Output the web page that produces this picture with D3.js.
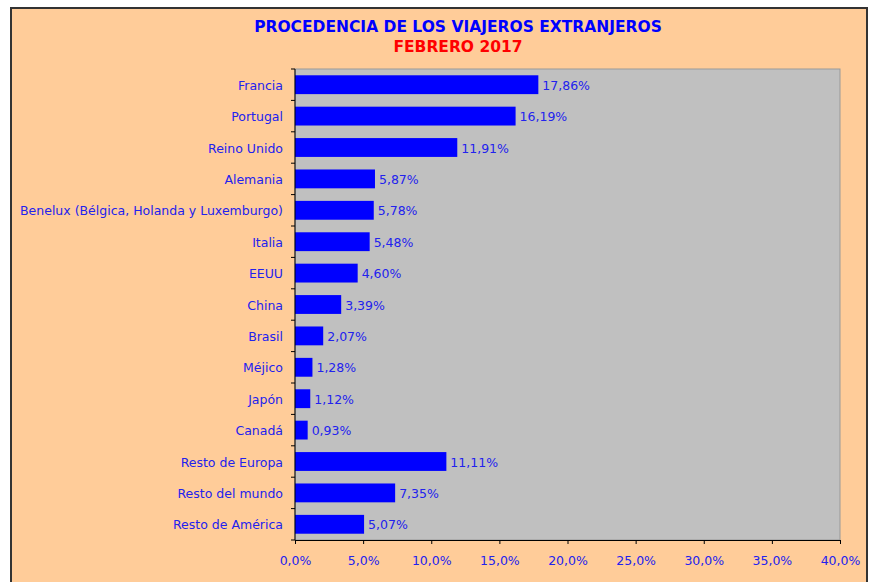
<!DOCTYPE html>
<html>
<head>
<meta charset="utf-8">
<script src="https://cdn.jsdelivr.net/npm/d3@7"></script>
<style>
  body { margin: 0; background: #fff; }
  text { font-family: "DejaVu Sans", Verdana, sans-serif; }
</style>
</head>
<body>
<script>
// data
const countries = [
  "Francia", "Portugal", "Reino Unido", "Alemania",
  "Benelux (Bélgica, Holanda y Luxemburgo)", "Italia", "EEUU", "China",
  "Brasil", "Méjico", "Japón", "Canadá",
  "Resto de Europa", "Resto del mundo", "Resto de América",
]
const shares = [17.86, 16.19, 11.91, 5.87, 5.78, 5.48, 4.60, 3.39, 2.07, 1.28, 1.12, 0.93, 11.11, 7.35, 5.07]
const xTicks = [0, 5, 10, 15, 20, 25, 30, 35, 40]
const titleLines = ["PROCEDENCIA DE LOS VIAJEROS EXTRANJEROS", "FEBRERO 2017"]

const dataset = countries.map((c, i) => ({country: c, value: shares[i]}))
const fmt = v => d3.format(".2f")(v).replace(".", ",") + "%"
const fmtTick = v => d3.format(".1f")(v).replace(".", ",") + "%"

const dimensions = {
  width: 869,
  height: 582,
  margin: {top: 69, right: 29, bottom: 42, left: 295},
}
dimensions.boundedWidth = dimensions.width - dimensions.margin.left - dimensions.margin.right
dimensions.boundedHeight = dimensions.height - dimensions.margin.top - dimensions.margin.bottom

const wrapper = d3.select("body")
  .append("svg")
    .attr("width", dimensions.width)
    .attr("height", dimensions.height)

// outer frame
wrapper.append("rect")
  .attr("x", 11).attr("y", 8)
  .attr("width", 856).attr("height", 590)
  .attr("fill", "#FFCC99")
  .attr("stroke", "#333")
  .attr("stroke-width", 2)

const titleColors = ["#0000FF", "#FF0000"]
wrapper.selectAll(".title")
  .data(titleLines)
  .join("text")
    .attr("x", 458)
    .attr("y", (d, i) => 32 + i * 20)
    .attr("text-anchor", "middle")
    .attr("fill", (d, i) => titleColors[i])
    .style("font-size", "15.5px")
    .style("font-weight", "bold")
    .text(d => d)

const bounds = wrapper.append("g")
  .attr("transform", `translate(${dimensions.margin.left}, ${dimensions.margin.top})`)

const xScale = d3.scaleLinear()
  .domain([0, 40])
  .range([0, dimensions.boundedWidth])

const yScale = d3.scaleBand()
  .domain(countries)
  .range([0, dimensions.boundedHeight])
  .paddingInner(0.4)
  .paddingOuter(0.2)

bounds.append("rect")
  .attr("width", dimensions.boundedWidth)
  .attr("height", dimensions.boundedHeight)
  .attr("fill", "#C0C0C0")
  .attr("stroke", "#999")

bounds.selectAll(".bar")
  .data(dataset)
  .join("rect")
    .attr("class", "bar")
    .attr("x", 0)
    .attr("y", d => yScale(d.country))
    .attr("width", d => xScale(d.value))
    .attr("height", yScale.bandwidth())
    .attr("fill", "#0000FF")

bounds.selectAll(".value")
  .data(dataset)
  .join("text")
    .attr("class", "value")
    .attr("x", d => xScale(d.value) + 4)
    .attr("y", d => yScale(d.country) + yScale.bandwidth() / 2)
    .attr("dy", "0.4em")
    .attr("fill", "#2222EE")
    .style("font-size", "12.5px")
    .text(d => fmt(d.value))

// x axis
const xAxisGenerator = d3.axisBottom(xScale)
  .tickValues(xTicks)
  .tickSize(4)
  .tickFormat(fmtTick)

const xAxis = bounds.append("g")
  .attr("transform", `translate(0, ${dimensions.boundedHeight})`)
  .call(xAxisGenerator)
xAxis.select(".domain").attr("stroke", "#000")
xAxis.selectAll(".tick line").attr("stroke", "#000")
xAxis.selectAll("text")
  .attr("fill", "#2222EE")
  .attr("y", 16)
  .style("font-size", "12.5px")
  .style("font-family", "DejaVu Sans, Verdana, sans-serif")

// y axis: ticks at band boundaries, labels centred in bands
const yAxis = bounds.append("g")
yAxis.append("line")
  .attr("y1", 0).attr("y2", dimensions.boundedHeight)
  .attr("stroke", "#000")
const step = yScale.step()
const boundaries = d3.range(countries.length + 1)
yAxis.selectAll(".ytick")
  .data(boundaries)
  .join("line")
    .attr("x1", -4).attr("x2", 0)
    .attr("y1", i => i * dimensions.boundedHeight / countries.length)
    .attr("y2", i => i * dimensions.boundedHeight / countries.length)
    .attr("stroke", "#000")
yAxis.selectAll(".ylabel")
  .data(countries)
  .join("text")
    .attr("x", -12)
    .attr("y", d => yScale(d) + yScale.bandwidth() / 2)
    .attr("dy", "0.4em")
    .attr("text-anchor", "end")
    .attr("fill", "#2222EE")
    .style("font-size", "12.5px")
    .text(d => d)
</script>
</body>
</html>
